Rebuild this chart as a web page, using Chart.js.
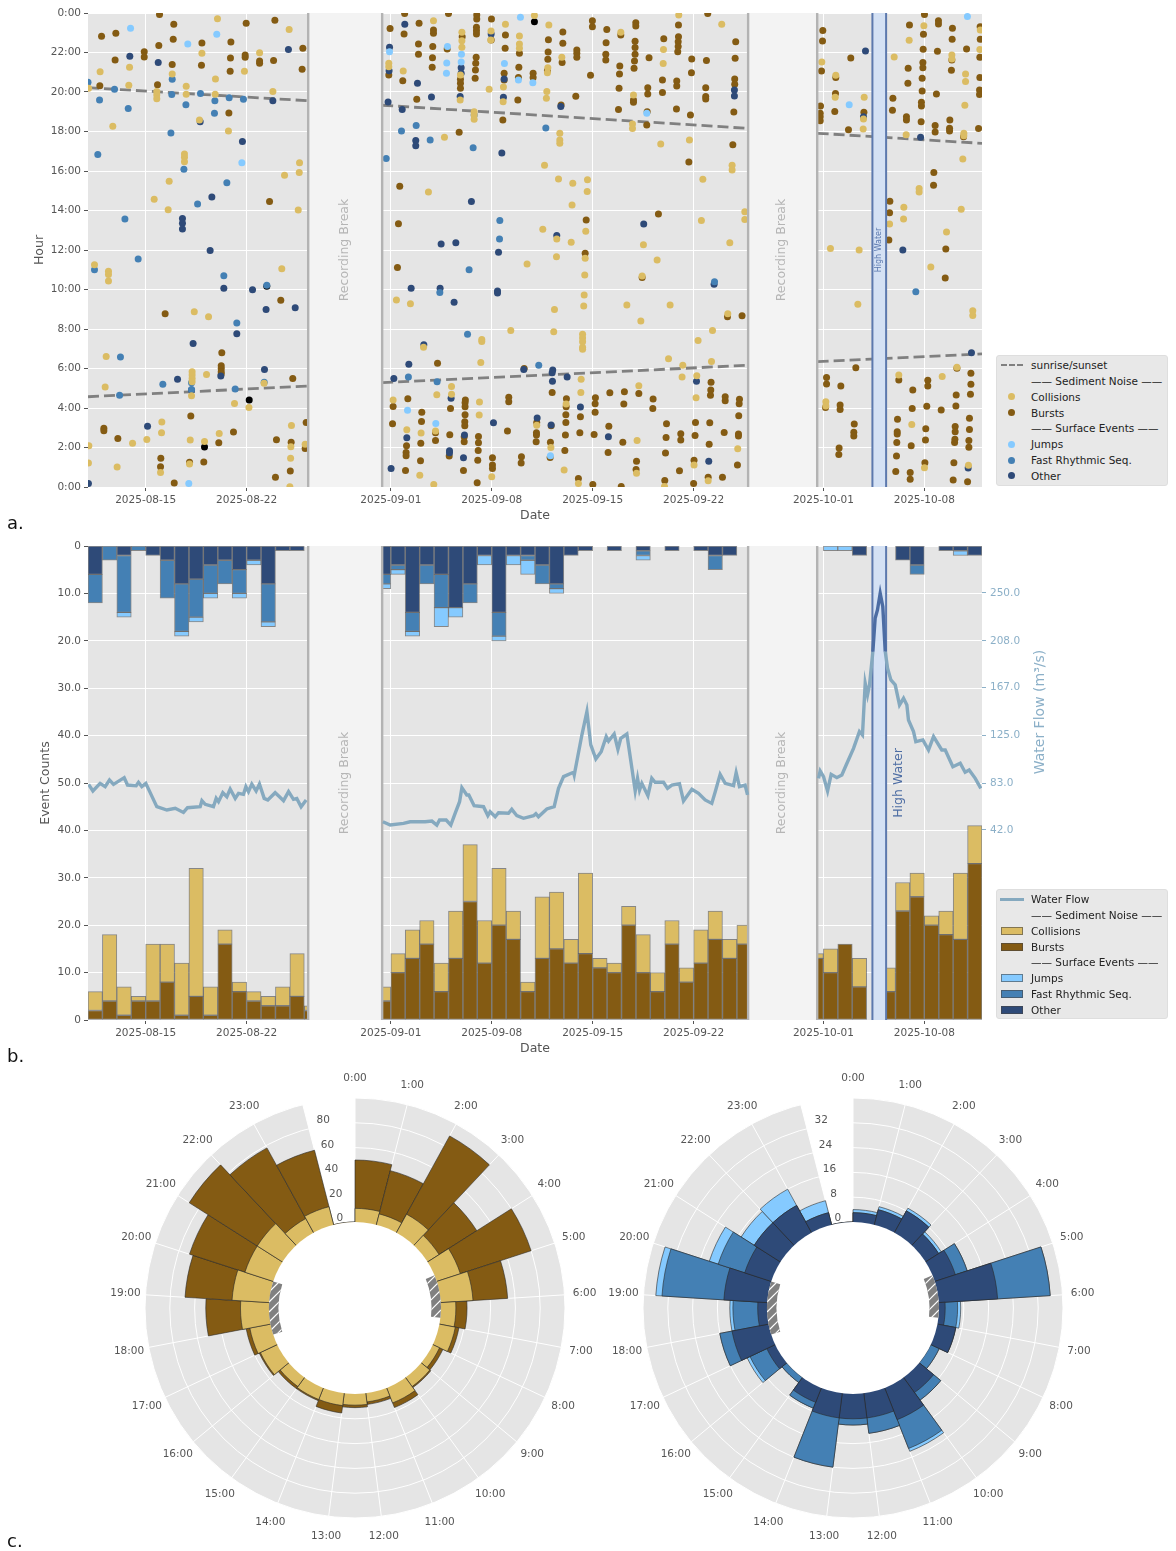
<!DOCTYPE html>
<html>
<head>
<meta charset="utf-8">
<title>Event catalogue</title>
<script src="https://cdn.jsdelivr.net/npm/chart.js@4/dist/chart.umd.min.js"></script>
<style>
html, body { margin: 0; background: #fff; }
body { position: relative; width: 1176px; height: 1551px; overflow: hidden; font-family: "DejaVu Sans"; }
canvas { position: absolute; }
.tag { position: absolute; left: 7px; font-size: 18px; color: #111; }
.legend { position: absolute; left: 996px; width: 172px; background: #e8e8e8; border: 1px solid #dedede; border-radius: 3px; box-sizing: border-box; font-size: 10.5px; color: #222; }
.legend .txt { position: absolute; left: 34px; height: 16px; line-height: 16px; white-space: nowrap; }
.legend .sw { position: absolute; box-sizing: border-box; }
</style>
</head>
<body>
<canvas id="scatterChart" width="1176" height="527" style="left:0;top:0"></canvas>
<canvas id="countChart" width="1176" height="527" style="left:0;top:533px"></canvas>
<canvas id="sedimentPolar" width="540" height="480" style="left:85px;top:1068px"></canvas>
<canvas id="surfacePolar" width="540" height="480" style="left:583px;top:1068px"></canvas>
<div class="tag" style="top:512px">a.</div>
<div class="tag" style="top:1045px">b.</div>
<div class="tag" style="top:1530px">c.</div>
<div class="legend" id="legendA" style="top:355px;height:131px"></div>
<div class="legend" id="legendB" style="top:889px;height:130px"></div>
<script>
// x values are days counted from 2025-08-01, y values are hours of the day
const dayTicks = [14, 21, 31, 38, 45, 52, 61, 68];
const dayTickLabels = ["2025-08-15", "2025-08-22", "2025-09-01", "2025-09-08", "2025-09-15", "2025-09-22", "2025-10-01", "2025-10-08"];
const recordingBreaks = [[25.27, 30.4], [55.78, 60.57]];
const highWater = [64.4, 65.35];

const sunDays = [10, 25.2, null, 30.4, 55.7, null, 60.6, 72, null, 10, 25.2, null, 30.4, 55.7, null, 60.6, 72];
const sunHours = [20.22, 19.56, null, 19.33, 18.16, null, 17.91, 17.4, null, 4.57, 5.11, null, 5.28, 6.16, null, 6.35, 6.74];

const collisions = [
[18.98,23.71],[23.95,23.16],[17.9,21.96],[21.9,21.99],[12.88,21.25],[10.84,21.03],[20.85,21.05],[15.84,20.91],[18.84,20.66],[12.83,20.34],[16.81,20.29],[14.77,20.02],[14.77,19.85],[14.77,19.66],[16.81,19.88],[22.82,20.02],[18.82,19.88],[10.04,20.19],[11.72,18.26],[17.73,18.58],[19.74,18.03],[16.69,16.86],[16.69,16.69],[16.69,16.47],[24.67,16.42],[24.65,15.93],[23.63,15.78],[15.63,15.48],[14.59,14.57],[15.56,14.04],[24.58,14.03],
[10.45,11.25],[11.42,10.93],[11.42,10.76],[11.42,10.43],[23.44,11.05],[17.37,8.87],[18.36,8.62],[11.26,6.61],[17.22,5.84],[17.22,5.67],[17.22,5.5],[17.22,5.33],[18.22,5.7],[11.19,5.06],[17.18,4.62],[20.16,4.23],[21.16,4.03],[15.12,3.29],[15.1,2.75],[19.1,2.71],[24.11,3.12],[14.08,2.41],[13.09,2.21],[17.09,2.38],[18.08,2.31],[10.06,2.09],[24.07,2.04],[25.06,2.17],[10.03,1.21],[24.05,1.45],[12.02,1.01],[15.03,0.74],[24,0.01],[17.04,1.16],[22.21,5.25],
[33.96,23.61],[38.95,23.43],[41.96,23.39],[53.95,23.43],[40.96,23.87],[50.97,23.9],[35.93,23.02],[35.93,22.6],[35.93,22.26],[37.95,23.09],[37.93,22.63],[39.92,22.84],[39.92,22.43],[39.92,22.21],[46.95,23.02],[42.86,21.76],[49.91,22.15],[49.89,21.44],[30.86,21.45],[30.86,21.28],[31.86,21.06],[41.89,21.23],[41.86,20.98],[35.83,20.86],[37.82,20.14],[38.81,20.25],[38.79,19.51],[41.82,20.02],[41.79,19.68],[47.83,19.85],[35.81,19.6],[36.78,19],[36.78,18.84],[36.78,18.62],[47.76,18.38],[47.76,18.15],[34.72,17.71],[42.72,17.91],[42.72,17.57],[42.72,17.4],[49.72,17.37],[51.71,17.57],[41.66,16.29],[54.67,16.29],[54.67,16.05],[42.63,15.6],[44.64,15.56],[43.62,15.38],[52.64,15.58],[44.62,14.96],[33.61,14.94],[43.57,14.28],[55.55,13.94],[55.55,13.55],[52.54,13.49],[41.54,13.05],[44.52,12.95],[42.51,12.56],[43.51,12.39],[54.51,12.37],[48.52,12.27],[42.49,11.66],[49.47,11.5],[44.48,11.58],
[31.16,4.4],[31.39,9.47],[32.36,9.28],[33.27,7.07],[34.19,4.67],[32.11,2.9],[33.1,2.73],[33.01,0.6],[33.98,0.13],[34.1,2.83],[35.21,5.09],[35.21,4.7],[37.31,7.47],[37.31,7.37],[37.24,6.31],[37.15,4.3],[37.13,3.64],[38,0.52],[40.45,11.29],[39.32,7.93],[42.3,7.86],[42.35,8.99],[44.41,9.72],[44.38,9.16],[44.45,10.73],[47.37,9.21],[50.37,9.21],[48.34,8.4],[48.43,10.68],[44.3,7.74],[44.3,7.54],[44.3,7.35],[44.3,7.07],[44.3,6.97],[44.2,5.46],[44.18,4.79],[43.16,4.2],[48.2,5.13],[48.08,2.36],[48.04,0.69],[43.02,0.86],[42.1,2],[41.12,3.13],[50.26,6.49],[51.25,6.17],[51.2,5.57],[52.22,5.63],[52.17,4.52],[52.31,7.42],[53.31,7.93],[53.24,6.36],[54.37,8.77],[55.06,1.94],[52.03,1.11],[53.01,0.32],[49.98,0.03],[44.01,0.18],
[67.97,23.36],[66.95,22.62],[71.88,23.14],[71.85,22.15],[65.91,21.77],[69.91,21.87],[69.91,21.67],[60.89,21.52],[61.86,20.85],[70.86,20.91],[70.86,20.53],[61.82,19.73],[63.83,19.73],[70.81,19.33],[63.78,18.63],[63.76,18.13],[70.74,17.91],[70.74,17.79],[66.74,17.84],[70.67,16.61],[67.64,15.12],[67.64,14.94],[66.58,14.16],[66.56,13.57],[70.56,14.06],[65.59,13.32],[69.54,12.91],[61.49,12.07],[63.48,12],[68.45,11.14],[63.39,9.25],[71.36,8.93],[71.36,8.68],[70.26,6.06],[66.23,5.67],[69.24,5.59],[61.17,4.32],[61.17,4.1],[67.13,3.16],[71.06,1.1],[68.01,0.98]
];
const bursts = [
[14.96,23.92],[15.95,23.43],[20.97,23.48],[22.96,23.63],[10.94,22.82],[11.93,22.97],[15.91,22.67],[14.91,22.35],[17.9,22.48],[19.91,22.53],[13.9,22.04],[24.9,22.21],[13.9,21.77],[11.88,21.62],[20.9,21.87],[20.9,21.76],[19.88,21.72],[21.9,21.57],[21.9,21.45],[22.87,21.6],[15.84,21.39],[17.87,21.35],[24.85,21.15],[19.86,21.05],[10.82,20.32],[14.82,20.37],[19.77,18.94],[22.59,14.45],
[15.35,8.77],[23.37,9.45],[19.28,6.8],[19.24,6.14],[19.24,6],[19.24,5.84],[19.24,5.72],[24.2,5.5],[17.13,3.59],[25.13,3.27],[11.1,2.97],[11.1,2.85],[12.07,2.46],[20.09,2.78],[19.07,2.24],[23.07,2.39],[24.09,2.27],[25.06,1.95],[15.05,1.45],[15.03,1.03],[17.04,1.25],[18.03,1.26],[24.03,0.81],[23,0.5],[15.98,0.2],
[30.95,23.22],[30.86,20.86],[31.83,20.57],[31.96,23.98],[31.92,22.94],[32.96,23.48],[32.92,22.43],[32.92,21.91],[32.8,19.63],[33.96,23.14],[33.96,22.97],[33.91,22.31],[33.89,21.74],[33.87,21.25],[35,23.98],[34.91,22.18],[35.83,20.64],[35.83,20.44],[35.83,20.19],[35.95,22.8],[36.96,23.9],[36.96,23.7],[36.94,23.28],[36.94,23.1],[36.94,22.94],[36.92,21.76],[36.89,21.45],[36.87,21.12],[36.85,20.69],[37.98,23.7],[37.96,22.63],[38.95,22.89],[38.93,22.21],[38.86,20.95],[38.86,20.61],[38.77,18.58],[35.74,17.96],[39.92,21.96],[39.88,21.25],[39.85,20.74],[39.81,19.6],[40.87,20.95],[40.87,20.74],[41.93,22.65],[41.91,22.03],[41.89,21.66],[41.86,21.08],[42.93,23.04],[42.93,22.47],[42.88,21.5],[42.81,19.34],[43.83,19.78],[43.9,22.13],[43.9,21.96],[43.9,21.76],[44.98,23.61],[44.98,23.31],[44.85,20.85],[45.98,23.17],[45.93,22.5],[45.91,21.91],[45.91,21.62],[46.79,19.11],[46.83,20.19],[46.95,22.89],[46.88,21.32],[46.86,20.91],[47.99,23.51],[47.99,23.34],[47.94,22.57],[47.94,22.25],[47.94,21.91],[47.9,21.57],[47.87,21.2],[47.83,19.6],[47.83,19.48],[48.91,21.74],[48.82,20.22],[48.82,19.9],[48.78,19],[48.75,18.33],[49.93,22.69],[49.84,20.61],[49.84,19.97],[50.81,19.14],[50.95,23.39],[50.95,22.8],[50.93,22.55],[50.93,22.3],[50.9,22.04],[50.83,20.56],[50.83,20.3],[52.98,23.98],[51.87,21.67],[51.85,20.98],[51.78,18.84],[52.89,21.59],[52.84,20.22],[52.84,19.77],[52.84,19.65],[54.92,22.55],[54.88,21.71],[54.85,20.66],[54.85,20.39],[54.79,18.99],[54.72,17.33],[51.67,16.46],[49.56,13.82],[44.55,13.52],[31.62,15.23],[31.53,13.33],[44.48,11.83],
[31.46,11.12],[31.16,4.08],[31.12,3.2],[32.18,4.47],[33.15,3.79],[33.13,3.32],[33.08,2.22],[32.09,2.09],[32.06,1.75],[32.06,1.58],[33.06,1.33],[32.02,0.84],[34.24,6.26],[34.1,2.75],[34.1,2.36],[35.14,3.98],[35.09,2.65],[35.05,1.57],[36.17,4.4],[36.15,4.27],[36.15,4.06],[36.15,3.66],[36.13,3.3],[36.13,3.1],[36.09,2.54],[36.09,2.29],[36.04,0.84],[37.08,2.56],[37.08,2.24],[37.06,1.85],[37.03,1.36],[36.99,0.22],[38.05,1.48],[38.05,1.11],[38.05,0.94],[39.18,4.54],[39.18,4.32],[39.09,2.83],[40.25,6],[40.06,1.53],[40.04,1.21],[41.12,3.27],[41.1,2.75],[41.1,2.63],[41.08,2.29],[42.19,4.79],[42.12,3.1],[42.07,2.26],[42.05,1.5],[43.18,4.47],[43.16,4.06],[43.14,3.66],[43.14,3.27],[43.11,2.63],[43.07,1.85],[44.15,3.56],[44.11,2.75],[44.01,0.43],[45.19,4.52],[45.17,4.21],[45.17,3.79],[45.1,2.66],[45.01,0.13],[46.19,4.77],[46.12,3.08],[46.07,1.75],[47.2,4.82],[47.16,4.2],[47.09,2.26],[46.98,0.03],[48.2,4.74],[48.04,1.3],[48.01,0.89],[49.19,4.45],[49.17,3.98],[50.12,3.2],[50.09,2.51],[50.05,1.72],[50,0.33],[51.11,2.7],[51.11,2.38],[51.02,0.82],[52.13,3.27],[52.1,2.61],[52.03,1.36],[52,0.18],[53.21,5.3],[53.19,4.91],[53.17,4.65],[53.12,3.25],[53.08,2.17],[53.01,0.49],[54.19,4.57],[54.19,4.37],[54.12,2.76],[54,0.49],[55.18,4.44],[55.16,4.22],[55.13,3.61],[55.11,2.68],[55.11,2.58],[55.04,1.11],[55.36,8.67],[54.35,8.62],[48.43,10.61],
[68.01,23.92],[66.97,23.39],[68.98,23.61],[68.98,23.44],[60.96,23.11],[60.94,22.58],[69.95,23.23],[71.87,23.31],[67.94,22.92],[69.93,22.67],[71.88,22.67],[67.92,22.16],[68.91,22.06],[70.93,22.18],[71.85,21.76],[62.9,21.72],[69.91,21.62],[67.9,21.49],[67.9,21.23],[66.88,21.2],[60.87,21.06],[61.86,20.74],[69.88,21.1],[67.85,20.69],[71.85,20.73],[66.86,20.44],[67.85,20.05],[61.84,19.93],[71.83,20.1],[71.83,19.87],[68.84,19.9],[65.82,19.68],[60.8,19.29],[67.8,19.48],[67.8,19.29],[65.79,19.07],[61.79,19.01],[63.81,18.97],[60.78,18.92],[60.78,18.75],[60.78,18.55],[66.76,18.75],[66.76,18.58],[69.77,18.58],[67.78,18.5],[68.75,18.3],[71.76,18.15],[62.74,18.09],[69.75,18.16],[69.75,18.03],[68.75,17.98],[70.72,17.74],[68.66,15.93],[68.64,15.28],[65.61,14.47],[65.59,13.89],[65.54,12.51],[69.49,12.05],[69.45,10.58],[63.25,6.04],[61.22,5.55],[61.22,5.22],[62.21,5.12],[61.15,4.03],[62.16,4.15],[62.16,3.93],[63.14,3.19],[63.11,2.77],[63.11,2.58],[62.09,1.98],[62.07,1.64],[71.23,5.76],[70.26,6.01],[66.23,5.42],[68.24,5.4],[68.24,5.12],[67.2,4.91],[71.23,5.2],[71.2,4.69],[70.21,4.66],[68.17,4.09],[70.19,4.1],[67.16,3.97],[69.17,3.9],[66.14,3.43],[71.13,3.48],[70.14,3.06],[70.14,2.8],[70.12,2.42],[70.1,2.25],[71.13,2.91],[66.12,2.8],[66.12,2.68],[68.1,2.95],[66.09,2.25],[68.08,2.38],[71.09,2.35],[67.09,2.09],[71.09,2.01],[66.07,1.57],[68.04,1.23],[70.05,1.23],[66.02,0.78],[67.02,0.73],[67.02,0.39],[70,0.36],[71,0.27]
];
const jumps = [
[12.95,23.23],[18.93,22.92],[16.92,22.43],[20.67,16.42],[16.99,0.18],[39.99,23.78],[34.93,22.3],[30.91,22.04],[35.9,21.91],[34.88,21.47],[35.88,21.52],[38.88,21.44],[34.86,20.95],[39.85,20.61],[40.85,20.47],[48.75,18.92],[32.16,3.88],[34.12,3.22],[42.07,1.58],[70.99,23.82],[62.79,19.36]
];
const fastRhythmic = [
[15.84,20.64],[11.84,20.14],[17.8,19.93],[15.81,19.87],[10.8,19.6],[18.8,19.56],[19.79,19.71],[20.78,19.63],[16.79,19.36],[12.79,19.16],[18.77,18.92],[15.75,17.93],[10.68,16.83],[16.65,16.09],[19.63,15.4],[17.6,14.33],[12.56,13.57],[13.48,11.55],[10,20.5],
[10.45,11],[19.42,10.7],[20.32,8.3],[22.4,10.22],[12.25,6.58],[15.19,5.2],[17.18,5.28],[17.18,4.94],[20.21,4.96],[22.22,5.31],[12.19,4.65],
[32.76,18.3],[31.74,18.03],[33.73,17.57],[36.71,17.18],[30.68,16.63],[38.56,13.5],[38.54,12.56],[41.75,18.18],[36.78,18.84],
[36.43,11],[34.4,9.85],[36.32,7.73],[32.22,5.57],[34.21,5.33],[41.26,6.17],[53.45,10.39],[67.41,9.89]
];
const otherEvents = [
[12.9,21.81],[14.87,21.5],[23.9,22.15],[22.82,19.56],[20.71,17.49],[18.59,14.68],[16.55,13.6],[16.55,13.35],[16.55,13.06],[18.47,11.97],[17.78,18.5],
[19.42,10.06],[21.41,9.99],[22.35,8.99],[24.37,9.08],[20.32,7.76],[17.29,7.27],[22.24,5.95],[16.21,5.46],[19.21,5.62],[14.13,3.08],[10.03,0.18],[17.18,4.91],
[31.97,23.43],[30.91,22.26],[35.88,21.23],[35.88,20.95],[30.88,21.08],[32.85,20.44],[38.86,20.66],[33.82,19.75],[35.81,19.77],[38.81,19.73],[30.81,19.5],[31.79,19.11],[42.79,19.26],[32.73,17.54],[32.73,17.28],[38.7,16.91],[36.59,14.45],[42.51,12.73],[48.54,13.32],[34.49,12.31],[35.51,12.37],[38.47,11.88],[37.96,22.94],[54.83,20.1],[54.83,19.8],
[32.41,10.06],[34.42,10.06],[38.4,9.92],[38.4,9.82],[35.39,9.35],[33.29,7.2],[32.25,6.21],[31.21,5.5],[42.23,5.92],[42.19,5.79],[42.21,5.36],[43.23,5.57],[40.22,5.95],[35.18,4.49],[52.2,5.36],[32.11,2.49],[44.15,4.05],[41.15,3.49],[38.12,3.25],[42.12,3.14],[36.11,2.63],[46.09,2.54],[35.07,1.84],[35.07,1.73],[36.04,1.48],[53.05,1.3],[31.02,0.94],[53.42,10.27],
[63.92,22.08],[63.78,18.75],[67.74,17.71],[66.51,12],[71.27,6.8],[71.04,0.96]
];
const unlabelled = [[40.96,23.56],[18.08,2.02],[21.18,4.4],[22.4,10.16]];

// daily counts, one entry per bin start day
const binDays = [10,11,12,13,14,15,16,17,18,19,20,21,22,23,24,25, 30,31,32,33,34,35,36,37,38,39,40,41,42,43,44,45,46,47,48,49,50,51,52,53,54,55, 60,61,62,63,64,65,66,67,68,69,70,71];
const burstCounts = [2,4,1,4,4,8,1,5,1,16,6,4,3,3,5,2, 4,10,13,16,6,13,25,12,20,17,6,13,15,12,14,11,10,20,10,6,16,8,12,17,13,16, 13,10,16,7,0,6,23,26,20,18,17,33];
const collisionCounts = [4,14,6,1,12,8,11,27,6,3,2,2,2,4,9,1, 3,4,6,5,6,10,12,9,12,6,2,13,12,5,17,2,2,4,8,4,5,3,7,6,4,4, 1,5,0,6,0,5,6,5,2,5,14,8];
const otherCounts = [6,0,2,0,2,3,8,7,4,3,5,3,8,1,1,0, 6,4,14,4,6,13,8,2,14,2,2,4,8,2,1,0,1,0,1,0,1,0,1,2,2,0, 0,0,0,2,0,0,3,4,0,1,1,2];
const fastCounts = [6,3,12,1,0,8,10,8,6,5,5,0,8,0,0,0, 2,1,4,4,7,0,4,0,5,0,1,4,1,0,0,0,0,0,1,0,0,0,0,3,0,0, 0,0,0,0,0,0,0,2,0,0,0,0];
const jumpCounts = [0,0,1,0,0,0,1,1,1,0,1,1,1,0,0,0, 1,1,1,0,4,2,0,2,1,2,3,0,1,0,0,0,0,0,1,0,0,0,0,0,0,0, 0,1,1,0,0,0,0,0,0,0,1,0];

// water flow
const flowDays = [10.04,10.34,10.84,11.19,11.49,11.77,12.51,12.74,13.34,13.5,13.73,14.01,14.5,14.77,15.47,16.05,16.62,16.9,17.78,17.9,18.13,18.7,18.89,19.05,19.35,19.63,19.86,20.21,20.44,20.78,20.95,21.13,21.36,21.66,21.89,22.22,22.47,22.98,23.28,23.56,23.91,24.25,24.48,24.78,25.13,25.5,
30.45,30.96,31.88,32.34,33.38,33.85,34.19,34.38,34.84,35.16,35.46,35.77,35.93,36.27,36.41,36.78,37.43,37.73,37.89,38.24,38.47,39.16,39.39,39.74,40.2,40.9,41.06,41.24,41.82,42.33,42.63,42.98,43.67,43.72,44.25,44.6,44.87,45.22,45.59,45.94,46.1,46.49,46.75,46.95,47.37,47.72,47.95,48.11,48.25,48.41,48.83,49.1,49.33,49.91,50.19,50.49,51.02,51.3,51.88,52.34,52.8,53.26,53.5,53.84,54.19,54.77,54.95,55.18,55.57,55.74,56,
60.66,60.78,61.01,61.29,61.54,61.93,62.28,62.58,63.09,63.5,63.71,63.9,64.06,64.2,64.43,64.59,64.75,64.94,65.12,65.29,65.45,65.68,65.98,66.28,66.56,66.79,66.9,67.25,67.41,67.9,68.29,68.64,69.21,69.45,69.98,70.49,70.83,71.11,71.53,71.92];
const flowValues = [82,76.2,82.9,80,85.8,82,87.9,81.4,80.9,83.8,80,82.9,69.7,62.4,59.5,61,57.4,61.5,62.4,67.7,64.5,62.4,69.7,66.8,74.7,71.2,77.9,69.7,74.1,73.2,80,75.6,82.3,76.2,82.3,69.7,68.3,74.7,71.2,67.7,75.6,68.9,69.7,62.4,68.3,null,
49.2,46.3,47.8,49.2,49.2,49.8,46.3,50.7,50.7,46.3,56.6,66.8,79.1,72.7,72.7,63.3,62.4,54.5,58,53.6,57.1,56.6,60.1,54.5,52.2,54.5,56.3,53.6,60.4,62.4,78.5,88.8,92.6,90.2,125.3,145.8,116.6,104.3,110.7,123.9,120,126.2,112.8,122.4,126.2,96.1,76.2,87.3,77,82.9,72.1,87.3,83.8,83.8,78.5,81.4,82.6,67.4,77.6,74.1,68.3,65.3,75.6,90.8,82.9,80.9,92.3,80,81.4,72.7,null,
87.3,93.7,88.8,76.2,90.8,87.9,90.2,99,113.6,128.3,125.3,170.7,160.5,169.3,198.5,227.8,235.1,249.7,238,198.5,183.9,173.6,169.3,151.7,157.5,151.7,138.5,128.3,119.5,121,112.2,123.9,112.2,112.2,97.5,100.5,92.6,94.6,87.3,78.5];
const flowTicks = [42, 83, 125, 167, 208, 250];

// polar panels: counts per hour of day
const hourLabels = ["0:00","1:00","2:00","3:00","4:00","5:00","6:00","7:00","8:00","9:00","10:00","11:00","12:00","13:00","14:00","15:00","16:00","17:00","18:00","19:00","20:00","21:00","22:00","23:00",""];
const hourCollisions = [11,9,17,11,20,26,12,13,6,9,13,7,9,10,10,9,15,17,23,30,24,24,13,15];
const hourBursts = [39,36,72,36,60,28,9,3,3,1,4,2,2,6,1,2,1,3,28,38,47,65,65,47];
const hourOther = [3,5,8,5,7,19,2,6,0,6,11,8,8,8,5,0,3,12,3,14,9,10,10,4];
const hourFast = [0,0,0,0,4,17,4,0,3,3,10,5,2,16,2,2,6,4,8,20,9,0,0,0];
const hourJumps = [1,1,1,1,0,0,1,0,0,0,1,0,0,0,0,0,1,0,1,2,3,5,6,4];
const sedimentTicks = [0, 20, 40, 60, 80];
const surfaceTicks = [0, 8, 16, 24, 32];
const twilightHours = [[4.7, 6.7], [17.5, 20]];

const COL = { collisions: "#dbbc63", bursts: "#845b13", jumps: "#85caff", fast: "#4480b4", other: "#2e4a78", flow: "#85a9bf", flowHigh: "#4c6ca3" };
const TICK_COLOR = "#555555";
const FLOW_TICK = "#8cb0c8";

Chart.defaults.font.family = '"DejaVu Sans"';
Chart.defaults.font.size = 10.5;
Chart.defaults.color = TICK_COLOR;
Chart.defaults.animation = false;
Chart.defaults.plugins.legend.display = false;
Chart.defaults.plugins.tooltip.enabled = false;

const toPoints = list => list.map(p => ({x: p[0], y: p[1]}));

function paintBands(chart, waterLabelPx, waterFont, waterColor) {
    const {ctx, chartArea: {top, bottom, height}, scales: {x}} = chart;
    const mid = (top + bottom) / 2;
    ctx.save();
    recordingBreaks.forEach(([a, b]) => {
        const x0 = x.getPixelForValue(a), x1 = x.getPixelForValue(b);
        ctx.fillStyle = "#f3f3f3";
        ctx.fillRect(x0, top, x1 - x0, height);
        ctx.fillStyle = "#b3b3b3";
        ctx.fillRect(x0 - 1.2, top, 2.4, height);
        ctx.fillRect(x1 - 1.2, top, 2.4, height);
        ctx.save();
        ctx.translate((x0 + x1) / 2 - 0.5, mid);
        ctx.rotate(-Math.PI / 2);
        ctx.font = '12.5px "DejaVu Sans"';
        ctx.fillStyle = "#b5b5b5";
        ctx.textAlign = "center";
        ctx.textBaseline = "middle";
        ctx.fillText("Recording Break", 0, 0);
        ctx.restore();
    });
    const w0 = x.getPixelForValue(highWater[0]), w1 = x.getPixelForValue(highWater[1]);
    ctx.fillStyle = "#d4e1f4";
    ctx.fillRect(w0, top, w1 - w0, height);
    ctx.fillStyle = "#5c79ae";
    ctx.fillRect(w0 - 1, top, 2, height);
    ctx.fillRect(w1 - 1, top, 2, height);
    ctx.save();
    ctx.translate(waterLabelPx === null ? (w0 + w1) / 2 : waterLabelPx, mid);
    ctx.rotate(-Math.PI / 2);
    ctx.font = waterFont;
    ctx.fillStyle = waterColor;
    ctx.textAlign = "center";
    ctx.textBaseline = "middle";
    ctx.fillText("High Water", 0, 0);
    ctx.restore();
    ctx.restore();
}

const plotBackground = {
    id: "plotBackground",
    beforeDraw(chart) {
        const {ctx, chartArea: a} = chart;
        ctx.save();
        ctx.fillStyle = "#e5e5e5";
        ctx.fillRect(a.left, a.top, a.width, a.height);
        ctx.restore();
    }
};

const dateAxis = {
    type: "linear",
    offset: false,
    min: 10,
    max: 72,
    afterBuildTicks: s => { s.ticks = dayTicks.map(value => ({value})); },
    afterFit: s => { s.height = 40; },
    ticks: {autoSkip: false, maxRotation: 0, minRotation: 0, padding: 3, callback: v => dayTickLabels[dayTicks.indexOf(v)]},
    grid: {offset: false, color: "#ffffff", lineWidth: 1, tickColor: TICK_COLOR, tickLength: 4},
    border: {display: false},
    title: {display: true, text: "Date", font: {size: 12.5}, color: TICK_COLOR}
};

function scatterSet(label, list, color) {
    return {label, data: toPoints(list), backgroundColor: color, borderWidth: 0, pointRadius: 3.5, pointHoverRadius: 3.5, clip: 0};
}

new Chart("scatterChart", {
    type: "scatter",
    data: {
        datasets: [
            scatterSet("Collisions", collisions, COL.collisions),
            scatterSet("Jumps", jumps, COL.jumps),
            scatterSet("Fast Rhythmic Seq.", fastRhythmic, COL.fast),
            scatterSet("Other", otherEvents, COL.other),
            scatterSet("Bursts", bursts, COL.bursts),
            scatterSet("unlabelled", unlabelled, "#000000"),
            {
                label: "sunrise/sunset",
                data: sunDays.map((d, i) => ({x: d, y: sunHours[i]})),
                showLine: true, spanGaps: false, pointRadius: 0,
                borderColor: "#808080", borderWidth: 2.8, borderDash: [11, 5], clip: 0
            }
        ]
    },
    options: {
        responsive: false,
        layout: {padding: {left: 28, right: 194, top: 13, bottom: 0}},
        scales: {
            x: dateAxis,
            y: {
                min: 0, max: 24,
                afterFit: s => { s.width = 60; },
                ticks: {stepSize: 2, padding: 3, callback: v => (v % 24) + ":00"},
                grid: {color: "#ffffff", lineWidth: 1, tickColor: TICK_COLOR, tickLength: 4},
                border: {display: false},
                title: {display: true, text: "Hour", font: {size: 12.5}, color: TICK_COLOR}
            }
        }
    },
    plugins: [plotBackground, {
        id: "bandsOverPoints",
        afterDatasetsDraw(chart) {
            paintBands(chart, null, '8px "DejaVu Sans"', "#5c79ae");
        }
    }]
});

// bar from base to base+count; the y axis runs 0..100, surface events hang from the top
function barSet(label, counts, bases, color, fromTop) {
    const data = [];
    binDays.forEach((d, i) => {
        if (!counts[i]) return;
        const a = bases[i], b = a + counts[i];
        data.push({x: d + 0.5, y: fromTop ? [100 - b, 100 - a] : [a, b]});
    });
    return {
        type: "bar", label, data, backgroundColor: color,
        borderColor: "rgba(70,70,70,0.6)", borderWidth: 1, borderSkipped: false,
        grouped: false, barPercentage: 1, categoryPercentage: 1, yAxisID: "y"
    };
}
const zeros = binDays.map(() => 0);
const sumOf = (...rows) => binDays.map((_, i) => rows.reduce((s, r) => s + r[i], 0));

new Chart("countChart", {
    data: {
        datasets: [
            {
                type: "line", label: "Water Flow", yAxisID: "y2",
                data: flowDays.map((d, i) => ({x: d, y: flowValues[i]})),
                borderColor: COL.flow, borderWidth: 3.4, pointRadius: 0, spanGaps: false, tension: 0, clip: 0,
                segment: {
                    borderColor: c => (c.p0.parsed.x >= highWater[0] - 0.02 && c.p1.parsed.x <= highWater[1] + 0.02) ? COL.flowHigh : COL.flow
                }
            },
            barSet("Bursts", burstCounts, zeros, COL.bursts, false),
            barSet("Collisions", collisionCounts, burstCounts, COL.collisions, false),
            barSet("Other", otherCounts, zeros, COL.other, true),
            barSet("Fast Rhythmic Seq.", fastCounts, otherCounts, COL.fast, true),
            barSet("Jumps", jumpCounts, sumOf(otherCounts, fastCounts), COL.jumps, true)
        ]
    },
    options: {
        responsive: false,
        layout: {padding: {left: 34, right: 130, top: 13, bottom: 0}},
        scales: {
            x: dateAxis,
            y: {
                position: "left",
                min: 0, max: 100,
                afterFit: s => { s.width = 54; },
                ticks: {stepSize: 10, padding: 3, autoSkip: false, callback: v => (v === 0 || v === 100) ? "0" : Math.min(v, 100 - v).toFixed(1)},
                grid: {color: "#ffffff", lineWidth: 1, tickColor: TICK_COLOR, tickLength: 4},
                border: {display: false},
                title: {display: true, text: "Event Counts", font: {size: 12.5}, color: TICK_COLOR}
            },
            y2: {
                position: "right",
                min: -124.8, max: 291.2,
                afterBuildTicks: s => { s.ticks = flowTicks.map(value => ({value})); },
                afterFit: s => { s.width = 64; },
                ticks: {color: FLOW_TICK, padding: 4, autoSkip: false, callback: v => v.toFixed(1)},
                grid: {drawOnChartArea: false, tickColor: FLOW_TICK, tickLength: 4},
                border: {display: false}
            }
        }
    },
    plugins: [plotBackground, {
        id: "bandsUnderFlow",
        beforeDatasetDraw(chart, args) {
            if (args.index === 0) paintBands(chart, 899, '12.5px "DejaVu Sans"', "#4c6ca3");
        },
        afterDraw(chart) {
            const {ctx} = chart;
            ctx.save();
            ctx.translate(1040, chart.chartArea.top + 166);
            ctx.rotate(-Math.PI / 2);
            ctx.font = '14px "DejaVu Sans"';
            ctx.fillStyle = FLOW_TICK;
            ctx.textAlign = "center";
            ctx.textBaseline = "middle";
            ctx.fillText("Water Flow (m³/s)", 0, 0);
            ctx.restore();
        }
    }]
});

const polarDecor = tickList => ({
    id: "polarDecor",
    beforeDatasetsDraw(chart) {
        // the last hour slot stays empty
        const {ctx, scales: {r}} = chart;
        ctx.save();
        ctx.fillStyle = "#ffffff";
        ctx.beginPath();
        ctx.moveTo(r.xCenter, r.yCenter);
        ctx.arc(r.xCenter, r.yCenter, r.drawingArea + 2, r.getIndexAngle(24) - Math.PI / 2, -Math.PI / 2);
        ctx.closePath();
        ctx.fill();
        ctx.restore();
    },
    afterDatasetsDraw(chart) {
        const {ctx, scales: {r}} = chart;
        const r0 = r.getDistanceFromCenterForValue(0);
        ctx.save();
        ctx.fillStyle = "#ffffff";
        ctx.beginPath();
        ctx.arc(r.xCenter, r.yCenter, r0, 0, Math.PI * 2);
        ctx.fill();
        twilightHours.forEach(([h0, h1]) => {
            const a0 = r.getIndexAngle(h0) - Math.PI / 2, a1 = r.getIndexAngle(h1) - Math.PI / 2;
            ctx.save();
            ctx.beginPath();
            ctx.arc(r.xCenter, r.yCenter, r0, a0, a1);
            ctx.arc(r.xCenter, r.yCenter, r0 - 9.5, a1, a0, true);
            ctx.closePath();
            ctx.fillStyle = "#808080";
            ctx.fill();
            ctx.clip();
            ctx.strokeStyle = "#ffffff";
            ctx.lineWidth = 1.2;
            for (let k = -2 * r0; k < 2 * r0; k += 10) {
                ctx.beginPath();
                ctx.moveTo(r.xCenter - r0, r.yCenter + k + r0);
                ctx.lineTo(r.xCenter + r0, r.yCenter + k - r0);
                ctx.stroke();
            }
            ctx.restore();
        });
        ctx.font = '10.5px "DejaVu Sans"';
        ctx.fillStyle = TICK_COLOR;
        ctx.textAlign = "center";
        ctx.textBaseline = "middle";
        hourLabels.forEach((label, i) => {
            const p = r.getPointPosition(i, r.drawingArea + 20);
            ctx.fillText(label, p.x, p.y);
        });
        tickList.forEach(v => {
            const dist = r.getDistanceFromCenterForValue(v) + 5;
            const ang = (-9.6 - 90) * Math.PI / 180;
            ctx.fillText(String(v), r.xCenter + dist * Math.cos(ang), r.yCenter + dist * Math.sin(ang));
        });
        ctx.restore();
    }
});

function polarChart(id, stack, colors, names, tickList) {
    const step = tickList[1] - tickList[0];
    const top = tickList[tickList.length - 1] + step;
    const running = hourLabels.map(() => 0);
    const datasets = stack.map((row, k) => {
        row.forEach((v, i) => { running[i] += v; });
        return {
            label: names[k],
            data: running.slice(),
            backgroundColor: colors[k],
            borderColor: "rgba(40,40,40,0.75)",
            borderWidth: 0.8
        };
    });
    new Chart(id, {
        type: "polarArea",
        data: {labels: hourLabels, datasets},
        options: {
            responsive: false,
            layout: {padding: {left: 60, right: 60, top: 30, bottom: 30}},
            scales: {
                r: {
                    min: -top * 86 / 124,
                    max: top,
                    startAngle: 0,
                    backgroundColor: "#e5e5e5",
                    afterBuildTicks: s => { s.ticks = tickList.concat([top]).map(value => ({value})); },
                    ticks: {display: false},
                    pointLabels: {display: false, centerPointLabels: false},
                    grid: {circular: true, color: "#ffffff", lineWidth: 1},
                    angleLines: {display: true, color: "#ffffff", lineWidth: 1}
                }
            }
        },
        plugins: [polarDecor(tickList)]
    });
}

polarChart("sedimentPolar", [hourCollisions, hourBursts], [COL.collisions, COL.bursts], ["Collisions", "Bursts"], sedimentTicks);
polarChart("surfacePolar", [hourOther, hourFast, hourJumps], [COL.other, COL.fast, COL.jumps], ["Other", "Fast Rhythmic Seq.", "Jumps"], surfaceTicks);

function buildLegend(id, rows) {
    const box = document.getElementById(id);
    rows.forEach((row, i) => {
        const cy = 9 + i * 15.85;
        const t = document.createElement("div");
        t.className = "txt";
        t.style.top = (cy - 8) + "px";
        t.textContent = row[2];
        box.appendChild(t);
        if (!row[0]) return;
        const s = document.createElement("div");
        s.className = "sw";
        if (row[0] === "dot") s.style.cssText = `left:11px;top:${cy - 3.5}px;width:7px;height:7px;border-radius:50%;background:${row[1]}`;
        if (row[0] === "dash") s.style.cssText = `left:4px;top:${cy - 1}px;width:22px;height:0;border-top:2px dashed ${row[1]}`;
        if (row[0] === "line") s.style.cssText = `left:3px;top:${cy - 1.5}px;width:24px;height:3px;background:${row[1]}`;
        if (row[0] === "box") s.style.cssText = `left:4px;top:${cy - 4}px;width:22px;height:8px;background:${row[1]};border:1px solid rgba(70,70,70,0.6)`;
        box.appendChild(s);
    });
}

buildLegend("legendA", [
    ["dash", "#808080", "sunrise/sunset"],
    [null, null, "—— Sediment Noise ——"],
    ["dot", COL.collisions, "Collisions"],
    ["dot", COL.bursts, "Bursts"],
    [null, null, "—— Surface Events ——"],
    ["dot", COL.jumps, "Jumps"],
    ["dot", COL.fast, "Fast Rhythmic Seq."],
    ["dot", COL.other, "Other"]
]);
buildLegend("legendB", [
    ["line", COL.flow, "Water Flow"],
    [null, null, "—— Sediment Noise ——"],
    ["box", COL.collisions, "Collisions"],
    ["box", COL.bursts, "Bursts"],
    [null, null, "—— Surface Events ——"],
    ["box", COL.jumps, "Jumps"],
    ["box", COL.fast, "Fast Rhythmic Seq."],
    ["box", COL.other, "Other"]
]);
</script>
</body>
</html>
